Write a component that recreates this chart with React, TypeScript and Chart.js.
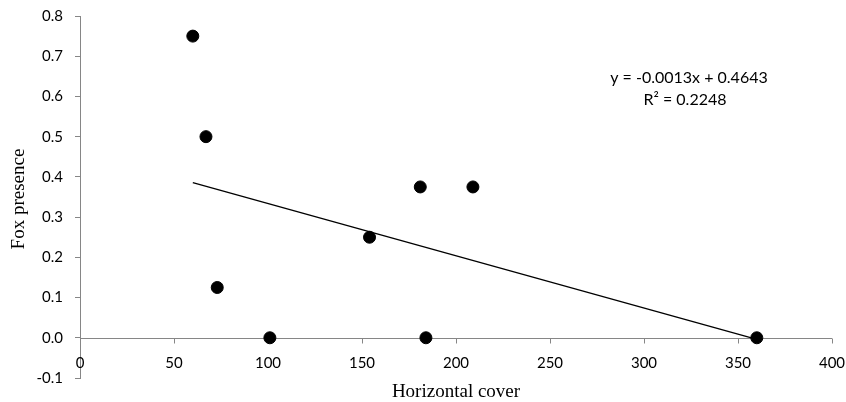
import React, { useEffect, useRef } from "react";
import { Chart, registerables } from "chart.js";

Chart.register(...registerables);

// Data
const coverValues = [60, 67, 73, 101, 154, 181, 184, 209, 360];
const foxValues = [0.75, 0.5, 0.125, 0, 0.25, 0.375, 0, 0.375, 0];
const trendCover = [60, 360];
const trendFox = [0.386, -0.004];
const xTickValues = [0, 50, 100, 150, 200, 250, 300, 350, 400];
const xTitle = "Horizontal cover";
const yTitle = "Fox presence";
const equationLines = ["y = -0.0013x + 0.4643", "R² = 0.2248"];

const AXIS_GRAY = "#868686";
const TICK_FONT = "15px Lato";
const TITLE_FONT = "19px 'Liberation Serif'";

const decorPlugin = {
  id: "decor",
  beforeDatasetsDraw(chart: any) {
    const { ctx, chartArea, scales } = chart;
    const xs = scales.x;
    const ys = scales.y;
    const y0 = Math.round(ys.getPixelForValue(0)) + 0.5;
    ctx.save();
    ctx.strokeStyle = AXIS_GRAY;
    ctx.lineWidth = 1;
    ctx.beginPath();
    ctx.moveTo(chartArea.left, y0);
    ctx.lineTo(chartArea.right, y0);
    for (const v of xTickValues) {
      const px = Math.round(xs.getPixelForValue(v)) + 0.5;
      ctx.moveTo(px, y0);
      ctx.lineTo(px, y0 + 5);
    }
    ctx.stroke();
    ctx.fillStyle = "#000";
    ctx.font = TICK_FONT;
    ctx.textAlign = "center";
    ctx.textBaseline = "middle";
    for (const v of xTickValues) {
      ctx.fillText(String(v), xs.getPixelForValue(v), y0 + 25);
    }
    ctx.restore();
  },
  afterDraw(chart: any) {
    const { ctx, chartArea } = chart;
    ctx.save();
    ctx.fillStyle = "#000";
    ctx.font = TITLE_FONT;
    ctx.textAlign = "center";
    ctx.textBaseline = "middle";
    ctx.fillText(xTitle, (chartArea.left + chartArea.right) / 2, 392);
    ctx.save();
    ctx.translate(19, 199);
    ctx.rotate(-Math.PI / 2);
    ctx.fillText(yTitle, 0, 0);
    ctx.restore();
    ctx.font = "16px Lato";
    ctx.fillText(equationLines[0], 689, 78);
    ctx.fillText(equationLines[1], 685, 100);
    ctx.restore();
  },
};

export default function App() {
  const canvasRef = useRef<HTMLCanvasElement | null>(null);

  useEffect(() => {
    if (!canvasRef.current) return;
    const points = coverValues.map((x, i) => ({ x, y: foxValues[i] }));
    const trend = trendCover.map((x, i) => ({ x, y: trendFox[i] }));
    const chart = new Chart(canvasRef.current, {
      type: "scatter",
      data: {
        datasets: [
          {
            label: "Trend",
            data: trend,
            showLine: true,
            borderColor: "#000",
            borderWidth: 1.3,
            pointRadius: 0,
            pointHoverRadius: 0,
          },
          {
            label: "Fox presence",
            data: points,
            backgroundColor: "#000",
            borderColor: "#000",
            borderWidth: 1,
            pointRadius: 6,
            pointHoverRadius: 6,
          },
        ],
      },
      options: {
        animation: false,
        responsive: false,
        layout: { padding: { left: 0, top: 16, right: 14, bottom: 24 } },
        plugins: {
          legend: { display: false },
          tooltip: { enabled: false },
        },
        scales: {
          x: {
            type: "linear",
            min: 0,
            max: 400,
            display: false,
          },
          y: {
            type: "linear",
            min: -0.1,
            max: 0.8,
            afterFit: (scale: any) => {
              scale.width = 80;
              scale.paddingTop = 0;
              scale.paddingBottom = 0;
            },
            ticks: {
              stepSize: 0.1,
              padding: 12,
              color: "#000",
              font: { family: "Lato", size: 15 },
              callback: (v: any) => Number(v).toFixed(1),
            },
            grid: {
              drawOnChartArea: false,
              drawTicks: true,
              tickLength: 5,
              color: AXIS_GRAY,
            },
            border: { color: AXIS_GRAY, width: 1 },
          },
        },
      },
      plugins: [decorPlugin],
    });
    return () => chart.destroy();
  }, []);

  return (
    <div style={{ position: "absolute", left: 0, top: 0, width: 846, height: 402, background: "#fff" }}>
      <canvas ref={canvasRef} width={846} height={402} />
    </div>
  );
}
